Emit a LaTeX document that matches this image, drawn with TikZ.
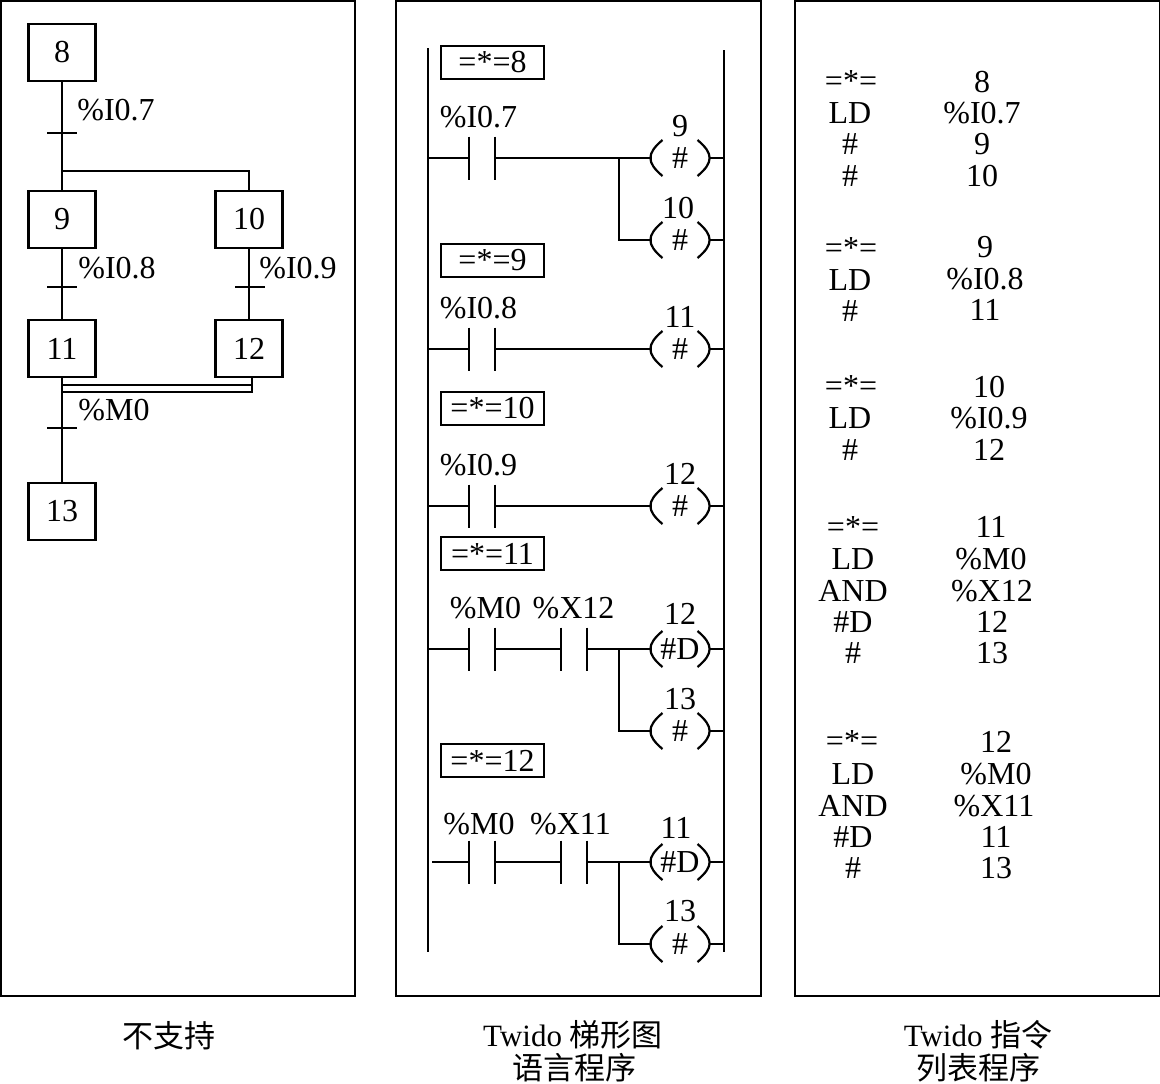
\documentclass[tikz,border=0pt]{standalone}
\usepackage{fontspec}
\setmainfont{Liberation Serif}
\newfontfamily\cjk{Noto Sans CJK SC}
\usetikzlibrary{calc, positioning}
\tikzset{
  % Texts
  fnt/.style={font=\fontsize{16}{16}\selectfont, inner sep=0pt},
  lbl/.style={fnt, yshift=-0.5pt},
  caplbl/.style={font=\fontsize{15.5}{15.5}\selectfont, inner sep=0pt},
  % Panels
  frame/.style={draw, line width=1.1pt},
  % SFC side
  stepbox/.style={
    draw, line width=1.1pt, minimum width=33.5pt, minimum height=28.5pt,
    inner sep=0pt, outer sep=0pt, fnt,
  },
  tick/.style={minimum width=15pt, minimum height=0pt, inner sep=0pt, outer sep=0pt},
  wire/.style={line width=1.1pt},
  % Ladder side
  tagbox/.style={
    draw, line width=1.1pt, minimum width=51.5pt, minimum height=16.5pt,
    inner sep=0pt, outer sep=0pt, fnt,
  },
  contact/.style={minimum width=13pt, minimum height=21.5pt, inner sep=0pt, outer sep=0pt},
  coil/.style={minimum width=28.5pt, minimum height=18pt, inner sep=0pt, outer sep=0pt, fnt},
}

\begin{document}
\begin{tikzpicture}[x=0.5pt, y=-0.5pt]
  \useasboundingbox (0,0) rectangle (1160,1083);

  % panels
  \node[frame, minimum width=177pt, minimum height=497.5pt, inner sep=0pt, anchor=north west] (leftpanel) at (0,0) {};
  \node[frame, minimum width=182.5pt, minimum height=497.5pt, inner sep=0pt, anchor=north west] (midpanel) at (394.5,0) {};
  \node[frame, minimum width=182.5pt, minimum height=497.5pt, inner sep=0pt, anchor=north west] (rightpanel) at (793.5,0) {};

  % SFC
  \node[stepbox] (s8) at (62,52.5) {8};
  \node[stepbox, below=55pt of s8] (s9) {9};
  \node[stepbox, right=60pt of s9] (s10) {10};
  \node[stepbox, below=36pt of s9] (s11) {11};
  \node[stepbox, right=60pt of s11] (s12) {12};
  \node[stepbox, below=53pt of s11] (s13) {13};
  \node[tick] (t8) at (62,133) {};
  \node[tick] (t9) at (62,287) {};
  \node[tick] (t10) at (250,287) {};
  \node[tick] (t11) at (62,428) {};
  \coordinate (fork) at (62,171);
  \coordinate (dbla) at (62,385);
  \coordinate (dblb) at (62,392);
  \coordinate (dblc) at (252,376);
  \draw[wire] (s8) -- (s9);
  \draw[wire] (fork) -| (s10);
  \draw[wire] (s9) -- (s11);
  \draw[wire] (s10) -- (s10 |- s12.north);
  \draw[wire] (s11) -- (s13);
  \draw[wire] (dbla) -- (dbla -| dblc);
  \draw[wire] (dblb) -| (dblc);
  \foreach \t in {t8,t9,t10,t11}
    \draw[wire] (\t.west) -- (\t.east);
  \node[lbl, anchor=west] (c8) at (77,109) {\%I0.7};
  \node[lbl, anchor=west] (c9) at (78,267) {\%I0.8};
  \node[lbl, anchor=west] (c10) at (259,267) {\%I0.9};
  \node[lbl, anchor=west] (c11) at (78,409) {\%M0};

  % ladder rails
  \coordinate (railLt) at (428,48);
  \coordinate (railLb) at (428,952);
  \coordinate (railRt) at (724,50);
  \coordinate (railRb) at (724,952);
  \draw[wire] (railLt) -- (railLb);
  \draw[wire] (railRt) -- (railRb);

  % step tags
  \node[tagbox] (tag8) at (492.5,62.5) {=*=8};
  \node[tagbox] (tag9) at (492.5,260.5) {=*=9};
  \node[tagbox] (tag10) at (492.5,408.5) {=*=10};
  \node[tagbox] (tag11) at (492.5,553.5) {=*=11};
  \node[tagbox] (tag12) at (492.5,760.5) {=*=12};

  % contacts
  \node[contact] (k8) at (482,158) {};
  \node[contact] (k9) at (482,349) {};
  \node[contact] (k10) at (482,506) {};
  \node[contact] (k11) at (482,649) {};
  \node[contact, right=33pt of k11] (k11b) {};
  \node[contact] (k12) at (482,862) {};
  \node[contact, right=33pt of k12] (k12b) {};
  \foreach \k in {k8,k9,k10,k11,k11b,k12,k12b} {
    \draw[wire] (\k.north west) -- (\k.south west);
    \draw[wire] (\k.north east) -- (\k.south east);
  }
  \node[lbl] (n8) at (478.5,116) {\%I0.7};
  \node[lbl] (n9) at (478.5,307) {\%I0.8};
  \node[lbl] (n10) at (478.5,464) {\%I0.9};
  \node[lbl] (n11) at (485.5,607) {\%M0};
  \node[lbl] (n11b) at (573.5,607) {\%X12};
  \node[lbl] (n12) at (479,823) {\%M0};
  \node[lbl] (n12b) at (570.5,823) {\%X11};

  % coils
  \node[coil] (q9) at (680,158) {\#};
  \node[coil] (q10) at (680,240) {\#};
  \node[coil] (q11) at (680,349) {\#};
  \node[coil] (q12) at (680,506) {\#};
  \node[coil] (q12d) at (680,649) {\#D};
  \node[coil] (q13) at (680,731) {\#};
  \node[coil] (q11d) at (680,862) {\#D};
  \node[coil] (q13b) at (680,944) {\#};
  \foreach \q in {q9,q10,q11,q12,q12d,q13,q11d,q13b} {
    \draw[wire] ([xshift=5.5pt]\q.north west) to[bend right=50, looseness=1.5] ([xshift=5.5pt]\q.south west);
    \draw[wire] ([xshift=-5.5pt]\q.north east) to[bend left=50, looseness=1.5] ([xshift=-5.5pt]\q.south east);
    \draw[wire] (\q.east) -- (\q.east -| railRt);
  }
  \node[lbl] (m9) at (680,125) {9};
  \node[lbl] (m10) at (678,207) {10};
  \node[lbl] (m11) at (680,316) {11};
  \node[lbl] (m12) at (680,473) {12};
  \node[lbl] (m12d) at (680,613) {12};
  \node[lbl] (m13) at (680,698) {13};
  \node[lbl] (m11d) at (676,827) {11};
  \node[lbl] (m13b) at (680,910) {13};

  % rungs
  \coordinate (j8) at (619,158);
  \coordinate (j11) at (619,649);
  \coordinate (j12) at (619,862);
  \coordinate (gap12) at (432,862);
  \draw[wire] (k8 -| railLt) -- (k8.west);
  \draw[wire] (k8.east) -- (q9.west);
  \draw[wire] (j8) |- (q10.west);
  \draw[wire] (k9 -| railLt) -- (k9.west);
  \draw[wire] (k9.east) -- (q11.west);
  \draw[wire] (k10 -| railLt) -- (k10.west);
  \draw[wire] (k10.east) -- (q12.west);
  \draw[wire] (k11 -| railLt) -- (k11.west);
  \draw[wire] (k11.east) -- (k11b.west);
  \draw[wire] (k11b.east) -- (q12d.west);
  \draw[wire] (j11) |- (q13.west);
  \draw[wire] (gap12) -- (k12.west);
  \draw[wire] (k12.east) -- (k12b.west);
  \draw[wire] (k12b.east) -- (q11d.west);
  \draw[wire] (j12) |- (q13b.west);

  % instruction list
  \foreach \x/\y/\t [count=\i] in {
    851/80/{=*=}, 850/112/LD, 850/143/\#, 850/175/\#,
    851/247/{=*=}, 850/279/LD, 850/310/\#,
    851/385/{=*=}, 850/417/LD, 850/449/\#,
    853/526/{=*=}, 853/558/LD, 853/590/AND, 853/621/\#D, 853/652/\#,
    852/740/{=*=}, 853/773/LD, 853/805/AND, 853/836/\#D, 853/867/\#}
    \node[lbl] (op\i) at (\x,\y) {\t};
  \foreach \x/\y/\t [count=\i] in {
    982/81/8, 982/112/\%I0.7, 982/143/9, 982/175/10,
    985/246/9, 985/278/\%I0.8, 985/309/11,
    989/386/10, 989/417/\%I0.9, 989/449/12,
    991/526/11, 991/558/\%M0, 992/590/\%X12, 992/621/12, 992/652/13,
    996/741/12, 996/773/\%M0, 994/805/\%X11, 996/836/11, 996/867/13}
    \node[lbl] (arg\i) at (\x,\y) {\t};

  % captions
  \node[caplbl] (capa) at (169,1036) {\cjk 不支持};
  \node[caplbl] (capb) at (573,1035) {Twido {\cjk 梯形图}};
  \node[caplbl] (capc) at (574,1068) {\cjk 语言程序};
  \node[caplbl] (capd) at (978,1035) {Twido {\cjk 指令}};
  \node[caplbl] (cape) at (978,1068) {\cjk 列表程序};
\end{tikzpicture}
\end{document}
